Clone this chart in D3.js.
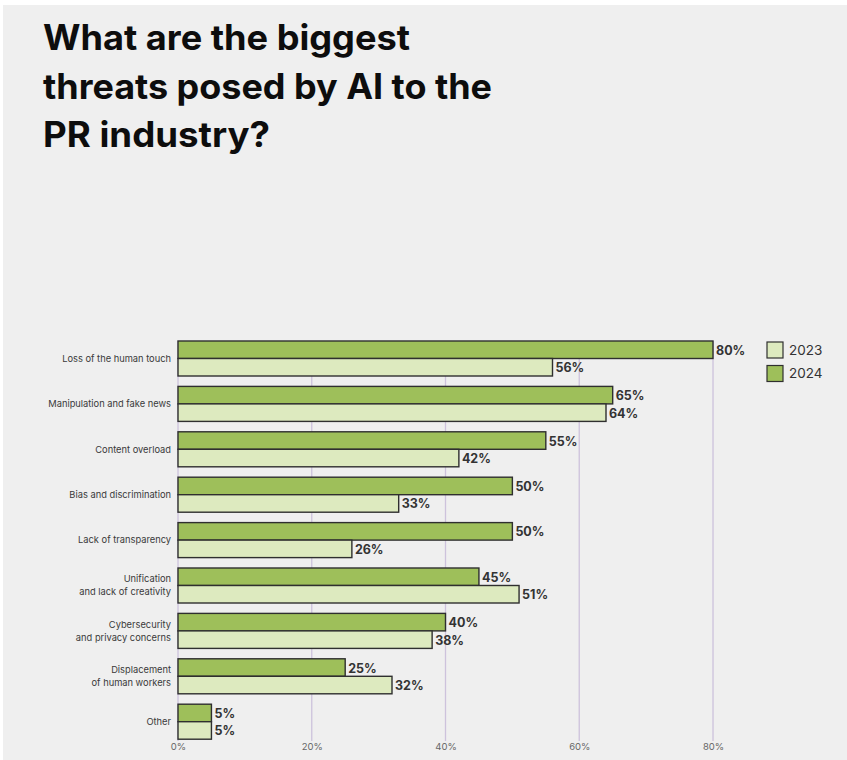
<!DOCTYPE html>
<html>
<head>
<meta charset="utf-8">
<script src="https://cdn.jsdelivr.net/npm/d3@7"></script>
<style>
  html, body { margin: 0; padding: 0; background: #ffffff; }
  svg { display: block; }
</style>
</head>
<body>
<svg id="chart" width="847" height="760"></svg>
<script>
// Survey answers: share of PR professionals naming each AI threat
const categories = [
  "Loss of the human touch",
  "Manipulation and fake news",
  "Content overload",
  "Bias and discrimination",
  "Lack of transparency",
  "Unification\nand lack of creativity",
  "Cybersecurity\nand privacy concerns",
  "Displacement\nof human workers",
  "Other"
];
const values2023 = [56, 64, 42, 33, 26, 51, 38, 32, 5];
const values2024 = [80, 65, 55, 50, 50, 45, 40, 25, 5];
const seriesNames = ["2023", "2024"];
const tickValues = [0, 20, 40, 60, 80];
const titleLines = ["What are the biggest", "threats posed by AI to the", "PR industry?"];

const colors = { "2023": "#ddeabf", "2024": "#9ebf5a" };

const svg = d3.select("#chart");

// panel background
svg.append("rect")
  .attr("x", 3).attr("y", 5)
  .attr("width", 844).attr("height", 755)
  .attr("fill", "#efefef");

// title
const titleWidths = [367, 449, 227];
svg.append("g").selectAll("text")
  .data(titleLines)
  .join("text")
  .attr("x", 43)
  .attr("y", (d, i) => 50 + i * 48.5)
  .attr("font-family", "'Liberation Sans Narrow', Inter, 'Liberation Sans', sans-serif")
  .attr("font-weight", 700)
  .attr("font-size", 35)
  .attr("fill", "#0d0d0d")
  .attr("textLength", (d, i) => titleWidths[i])
  .attr("lengthAdjust", "spacingAndGlyphs")
  .text(d => d);

// scales
const x = d3.scaleLinear().domain([0, 80]).range([178, 713]);
const y = d3.scaleBand()
  .domain(categories)
  .range([341, 341 + 8 * 45.4 + 35])
  .paddingInner(0.229)
  .paddingOuter(0);
const ySub = d3.scaleBand()
  .domain(["2024", "2023"])
  .range([0, y.bandwidth()]);

// gridlines
const grid = svg.append("g");
grid.selectAll("line")
  .data(tickValues)
  .join("line")
  .attr("x1", d => x(d)).attr("x2", d => x(d))
  .attr("y1", 341).attr("y2", 741)
  .attr("stroke", "#cdc2dc")
  .attr("stroke-width", 1.3);

// x axis labels
const xAxis = d3.axisBottom(x)
  .tickValues(tickValues)
  .tickFormat(d => d + "%")
  .tickSize(0)
  .tickPadding(0);
const axisG = svg.append("g")
  .attr("transform", "translate(0,743.5)")
  .call(xAxis);
axisG.select(".domain").remove();
axisG.selectAll("text")
  .attr("font-family", "Inter, 'Open Sans', sans-serif")
  .attr("font-size", 9.5)
  .attr("fill", "#666")
  .attr("dy", "0.71em");

// bars
const rows = categories.map((c, i) => ({
  cat: c,
  items: [
    { series: "2024", value: values2024[i] },
    { series: "2023", value: values2023[i] }
  ]
}));

const groups = svg.append("g").selectAll("g")
  .data(rows)
  .join("g")
  .attr("transform", d => `translate(0,${y(d.cat)})`);

groups.selectAll("rect")
  .data(d => d.items)
  .join("rect")
  .attr("x", x(0))
  .attr("y", d => ySub(d.series))
  .attr("width", d => x(d.value) - x(0))
  .attr("height", ySub.bandwidth())
  .attr("fill", d => colors[d.series])
  .attr("stroke", "#2f2f2f")
  .attr("stroke-width", 1.4);

// value labels
groups.selectAll("text.val")
  .data(d => d.items)
  .join("text")
  .attr("class", "val")
  .attr("x", d => x(d.value) + 3)
  .attr("y", d => ySub(d.series) + ySub.bandwidth() / 2)
  .attr("dy", "0.4em")
  .attr("font-family", "Inter, 'Open Sans', sans-serif")
  .attr("font-weight", 700)
  .attr("font-size", 12.5)
  .attr("fill", "#333")
  .text(d => d.value + "%");

// category labels
groups.append("text")
  .attr("text-anchor", "end")
  .attr("font-family", "Inter, 'Open Sans', sans-serif")
  .attr("font-size", 9.3)
  .attr("fill", "#3a3a3a")
  .each(function(d) {
    const lines = d.cat.split("\n");
    const mid = y.bandwidth() / 2;
    const lh = 13;
    d3.select(this).selectAll("tspan")
      .data(lines)
      .join("tspan")
      .attr("x", 171)
      .attr("y", (l, i) => mid + (i - (lines.length - 1) / 2) * lh)
      .attr("dy", "0.35em")
      .text(l => l);
  });

// legend
const legend = svg.append("g").attr("transform", "translate(767,342)");
const legItems = legend.selectAll("g")
  .data(seriesNames)
  .join("g")
  .attr("transform", (d, i) => `translate(0,${i * 23.5})`);
legItems.append("rect")
  .attr("width", 16).attr("height", 16)
  .attr("fill", d => colors[d])
  .attr("stroke", "#2f2f2f")
  .attr("stroke-width", 1.2);
legItems.append("text")
  .attr("x", 22).attr("y", 8).attr("dy", "0.36em")
  .attr("font-family", "Inter, 'Open Sans', sans-serif")
  .attr("font-size", 13.5)
  .attr("fill", "#333")
  .text(d => d);
</script>
</body>
</html>
